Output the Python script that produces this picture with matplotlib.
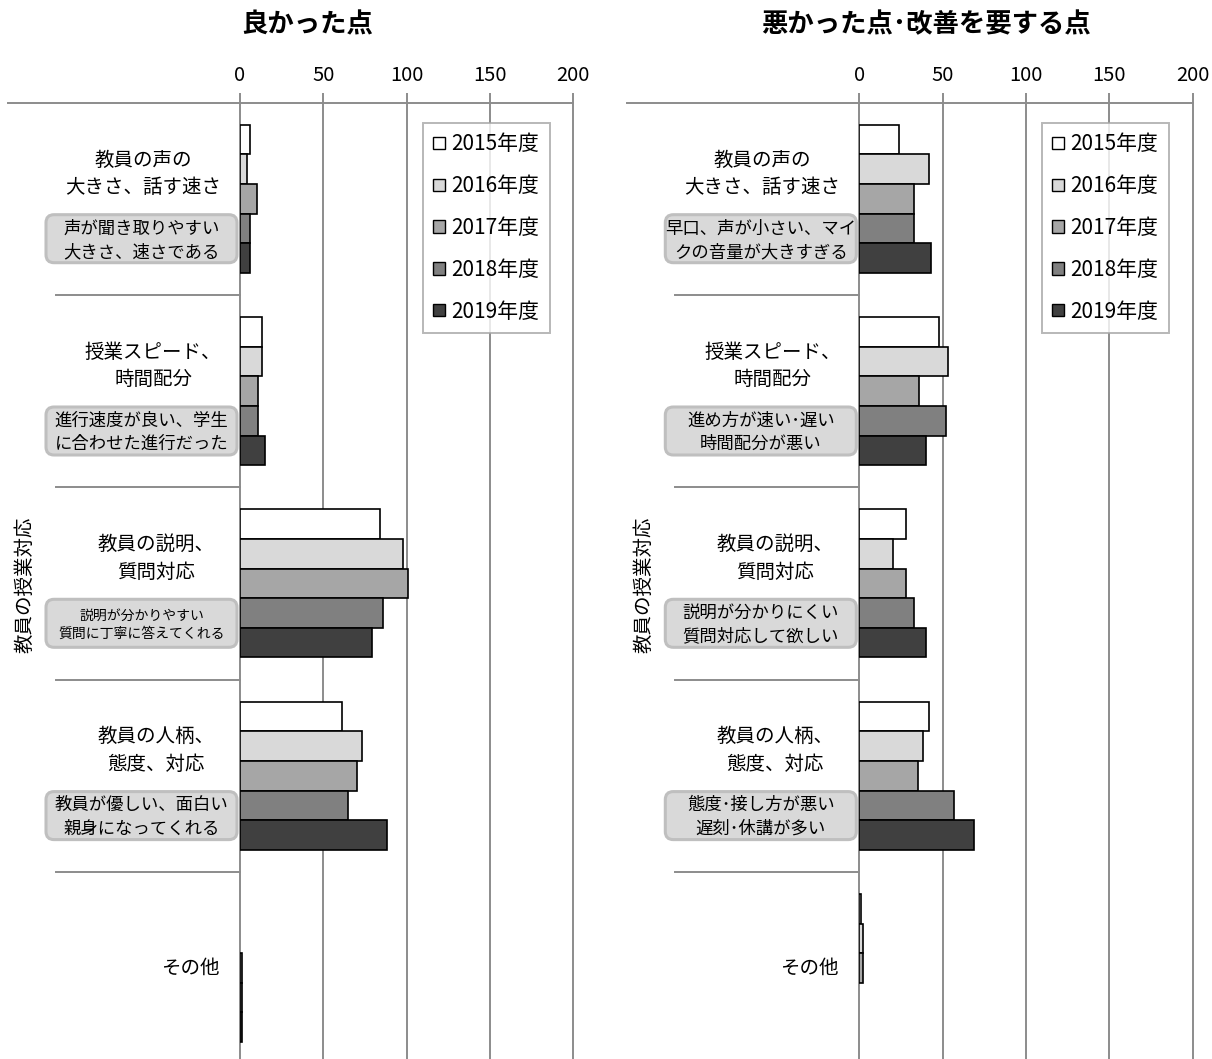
import matplotlib
matplotlib.use("Agg")
import matplotlib.pyplot as plt
from matplotlib.patches import Patch, FancyBboxPatch
from matplotlib.lines import Line2D

plt.rcParams['font.family'] = ['Noto Sans CJK JP', 'DejaVu Sans']

years = ["2015年度", "2016年度", "2017年度", "2018年度", "2019年度"]
colors = ["#ffffff", "#d9d9d9", "#a6a6a6", "#808080", "#404040"]

categories = ["教員の声の\n大きさ、話す速さ", "授業スピード、\n時間配分", "教員の説明、\n質問対応",
              "教員の人柄、\n態度、対応", "その他"]
group_label = "教員の授業対応"

good_title = "良かった点"
good_notes = ["声が聞き取りやすい\n大きさ、速さである", "進行速度が良い、学生\nに合わせた進行だった",
              "説明が分かりやすい\n質問に丁寧に答えてくれる", "教員が優しい、面白い\n親身になってくれる", None]
# rows = categories, columns = years
good_values = [
    [6, 4, 10, 6, 6],
    [13, 13, 11, 11, 15],
    [84, 98, 101, 86, 79],
    [61, 73, 70, 65, 88],
    [0, 0, 1, 1, 1],
]

bad_title = "悪かった点･改善を要する点"
bad_notes = ["早口、声が小さい、マイ\nクの音量が大きすぎる", "進め方が速い･遅い\n時間配分が悪い",
             "説明が分かりにくい\n質問対応して欲しい", "態度･接し方が悪い\n遅刻･休講が多い", None]
bad_values = [
    [24, 42, 33, 33, 43],
    [48, 53, 36, 52, 40],
    [28, 20, 28, 33, 40],
    [42, 38, 35, 57, 69],
    [1, 2, 2, 0, 0],
]

xticks = [0, 50, 100, 150, 200]

W, H = 1212, 1059
fig = plt.figure(figsize=(W / 100, H / 100), dpi=100)
tr = fig.dpi_scale_trans
GRAY = "#8c8c8c"

AX_TOP, GROUP_H, AX_W = 102.7, 192.3, 333.3
label_dx = [-97, -87, -84, -84, -50]   # label centre, px from zero line


def P(x, y):
    return x / 100, (H - y) / 100


def panel(x0, title, title_x, values, notes, legend_x, small_note=None):
    n = len(categories)
    ax = fig.add_axes([x0 / W, (H - AX_TOP - n * GROUP_H) / H, AX_W / W, n * GROUP_H / H])
    bh = 0.154
    for j, yr in enumerate(years):
        ys = [i + (j - 2) * bh for i in range(n)]
        vals = [row[j] for row in values]
        ax.barh(ys, vals, height=bh, color=colors[j], edgecolor="black",
                linewidth=[1.2 if v > 0 else 0 for v in vals], label=yr, zorder=3)
    ax.set_xlim(0, 200)
    ax.set_ylim(n - 0.5, -0.5)
    ax.set_yticks([])
    ax.xaxis.tick_top()
    ax.set_xticks(xticks)
    ax.tick_params(axis="x", direction="out", length=7, width=1.4, color=GRAY,
                   labelsize=14.5, pad=5)
    for x in xticks[1:-1]:
        ax.axvline(x, color=GRAY, lw=1.4, zorder=1)
    ax.spines["bottom"].set_visible(False)
    for s in ["top", "left", "right"]:
        ax.spines[s].set_color(GRAY)
        ax.spines[s].set_linewidth(1.4)

    # category-axis lines on the left
    fig.add_artist(Line2D([P(x0 - 232, 0)[0], P(x0, 0)[0]], [P(0, AX_TOP)[1]] * 2,
                          transform=tr, color=GRAY, lw=1.4))
    for i in range(1, n):
        yy = AX_TOP + i * GROUP_H
        fig.add_artist(Line2D([P(x0 - 184, 0)[0], P(x0, 0)[0]], [P(0, yy)[1]] * 2,
                              transform=tr, color=GRAY, lw=1.4))

    for i, cat in enumerate(categories):
        top = AX_TOP + i * GROUP_H
        ly = top + GROUP_H / 2 if notes[i] is None else top + 71
        fig.text(*P(x0 + label_dx[i], ly), cat, transform=tr, ha="center", va="center",
                 fontsize=14, linespacing=1.4)
        if notes[i] is not None:
            bx0, bx1 = x0 - 194, x0 - 3
            by0, by1 = top + 112, top + 160
            box = FancyBboxPatch(P(bx0, by1), (bx1 - bx0) / 100, (by1 - by0) / 100,
                                 boxstyle="round,pad=0,rounding_size=0.08", transform=tr,
                                 facecolor="#d9d9d9", edgecolor="#bfbfbf", lw=2.2)
            fig.add_artist(box)
            fs = small_note if (small_note and i == 2) else 12.5
            fig.text(*P((bx0 + bx1) / 2, top + 137.5), notes[i], transform=tr,
                     ha="center", va="center", fontsize=fs, linespacing=1.4)

    fig.text(*P(x0 - 215, 585), group_label, transform=tr, rotation=90,
             ha="center", va="center", fontsize=14)
    fig.text(*P(title_x, 25), title, transform=tr, ha="center", va="center",
             fontsize=19, fontweight="bold")

    handles = [Patch(facecolor=c, edgecolor="black", lw=1.0) for c in colors]
    leg = fig.legend(handles, years, loc="upper left",
                     bbox_to_anchor=P(legend_x, 123), bbox_transform=tr,
                     fontsize=15, frameon=True, fancybox=False, borderaxespad=0,
                     handlelength=0.55, handleheight=0.55, handletextpad=0.3,
                     labelspacing=0.95, borderpad=0.5)
    leg.get_frame().set_edgecolor("#a6a6a6")
    leg.get_frame().set_linewidth(1.4)
    return ax


panel(240, good_title, 307, good_values, good_notes, 423, small_note=10)
panel(859.3, bad_title, 926, bad_values, bad_notes, 1042)

fig.savefig("out.png", dpi=100)
